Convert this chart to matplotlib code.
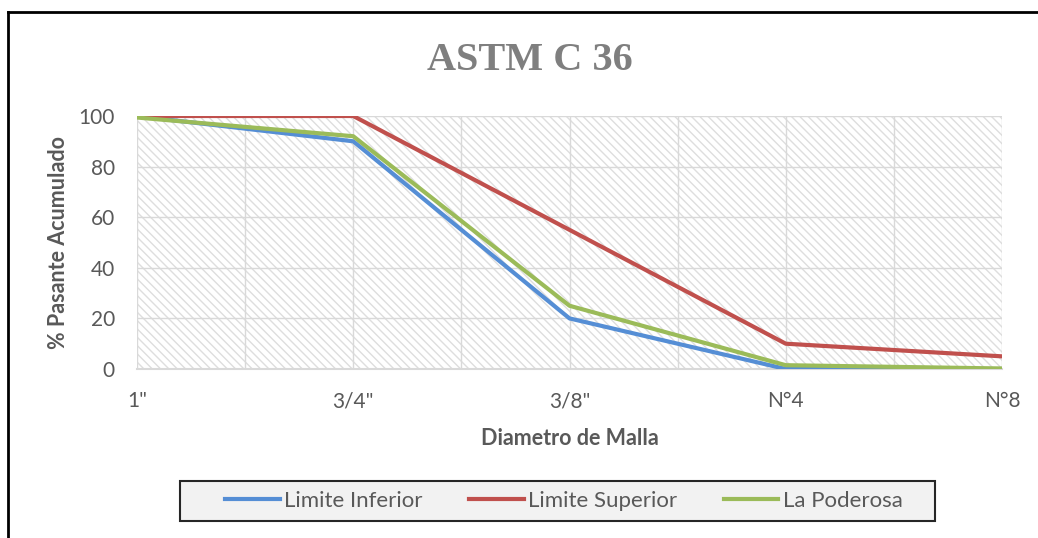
import matplotlib.pyplot as plt
from matplotlib.patches import Rectangle
from matplotlib.lines import Line2D

# Granulometria - curva ASTM C 36
mallas = ['1"', '3/4"', '3/8"', 'N°4', 'N°8']
limite_inferior = [100, 90, 20, 0, 0]
limite_superior = [100, 100, 55, 10, 5]
la_poderosa = [99.4, 92, 25, 1.5, 0.2]

plt.rcParams['font.family'] = ['Lato', 'DejaVu Sans']
plt.rcParams['hatch.linewidth'] = 1.0

fig = plt.figure(figsize=(10.38, 5.38), dpi=100)
ax = fig.add_axes([137 / 1038, 1 - 369 / 538, 865 / 1038, 253 / 538])

x = list(range(len(mallas)))

# fondo rayado del area de trazado
ax.add_patch(Rectangle((0, 0), 1, 1, transform=ax.transAxes, facecolor='white',
                       edgecolor='#dedede', lw=0, hatch='\\\\\\\\', zorder=0))

ax.plot(x, limite_inferior, color='#558ED5', lw=3, label='Limite Inferior', zorder=3)
ax.plot(x, limite_superior, color='#C0504D', lw=3, label='Limite Superior', zorder=3)
ax.plot(x, la_poderosa, color='#9BBB59', lw=3, label='La Poderosa', zorder=4)

ax.set_xlim(0, 4)
ax.set_ylim(0, 100)
ax.set_xticks(x)
ax.set_xticklabels(mallas)
ax.set_xticks([0.5, 1.5, 2.5, 3.5], minor=True)
ax.set_yticks([0, 20, 40, 60, 80, 100])
ax.grid(True, which='both', color='#d9d9d9', lw=1, zorder=1)
ax.set_axisbelow(True)

ax.tick_params(axis='both', which='both', length=0, labelsize=15, labelcolor='#595959')
ax.tick_params(axis='x', pad=16)
ax.tick_params(axis='y', pad=16)

for s in ['top', 'right', 'left']:
    ax.spines[s].set_visible(False)
ax.spines['bottom'].set_color('#d9d9d9')
ax.spines['bottom'].set_linewidth(1.5)

ax.set_xlabel('Diametro de Malla', fontsize=15.5, fontweight='bold', color='#595959', labelpad=12)
ax.set_ylabel('% Pasante Acumulado', fontsize=15.5, fontweight='bold', color='#595959', labelpad=7)

fig.text(530 / 1038, 1 - 60 / 538, 'ASTM C 36', ha='center', va='center',
         fontsize=29, fontweight='bold', color='#7f7f7f', family='Liberation Serif')

# caja de la leyenda
fig.add_artist(Rectangle((180 / 1038, 1 - 521 / 538), 755 / 1038, 40 / 538,
                         transform=fig.transFigure, facecolor='#f2f2f2',
                         edgecolor='#262626', lw=1.5, zorder=1))
leg = fig.legend(loc='center', bbox_to_anchor=(564 / 1038, 1 - 501 / 538), ncol=3,
                 fontsize=16, frameon=False, handlelength=2.45,
                 handletextpad=0.2, columnspacing=2.1)
leg.set_zorder(2)
for t in leg.get_texts():
    t.set_color('#595959')

# borde exterior del grafico
fig.add_artist(Line2D([8 / 1038, 8 / 1038], [0, 1 - 12 / 538], color='black', lw=2,
                      transform=fig.transFigure))
fig.add_artist(Line2D([8 / 1038, 1], [1 - 12 / 538, 1 - 12 / 538], color='black', lw=2,
                      transform=fig.transFigure))

fig.savefig('out.png', dpi=100)
